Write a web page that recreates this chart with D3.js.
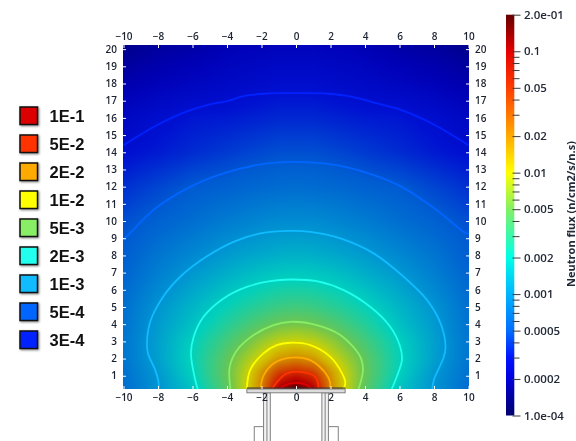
<!DOCTYPE html>
<html>
<head>
<meta charset="utf-8">
<script src="https://cdn.jsdelivr.net/npm/d3@7"></script>
<style>
  body { margin: 0; background: #fff; }
  #chart { position: relative; width: 576px; height: 441px; overflow: hidden; }
  #chart canvas, #chart svg { position: absolute; left: 0; top: 0; }
  #chart svg { filter: blur(0.3px); }
  text { font-family: "Open Sans", sans-serif; }
</style>
</head>
<body>
<div id="chart"></div>
<script>
// legend
var legendLabels = ["1E-1", "5E-2", "2E-2", "1E-2", "5E-3", "2E-3", "1E-3", "5E-4", "3E-4"];
var legendColors = ["#dd0000", "#ff3300", "#ffaa00", "#ffff00", "#88ee66", "#22ffee", "#11bbff", "#0066ff", "#0022ff"];

// colour bar
var barValues = [0.0001, 0.00015, 0.0002, 0.0003, 0.0005, 0.001, 0.002, 0.005, 0.01, 0.02, 0.05, 0.1, 0.2];
var barColors = ["#00006e", "#0000aa", "#0000dc", "#0014ff", "#006eff", "#00b4ff", "#00ffe6", "#82f064", "#ffff00", "#ffaa00", "#ff3c00", "#e60000", "#640000"];
var barMajor = [0.2, 0.1, 0.05, 0.02, 0.01, 0.005, 0.002, 0.001, 0.0005, 0.0002, 0.0001];
var barMajorLabels = ["2.0e-01", "0.1", "0.05", "0.02", "0.01", "0.005", "0.002", "0.001", "0.0005", "0.0002", "1.0e-04"];
var barMinor = [0.09, 0.08, 0.07, 0.06, 0.04, 0.03, 0.009, 0.008, 0.007, 0.006, 0.004, 0.003, 0.0009, 0.0008, 0.0007, 0.0006, 0.0004, 0.0003];

// flux, one row per gridY
var gridX = [-10, -8, -6, -4, -3, -2, -1, 0, 1, 2, 3, 4, 6, 8, 10];
var gridY = [0.23, 0.6, 1.2, 2, 3, 4, 5, 6.5, 8, 10, 12, 14, 16, 18, 20.24];
var fluxRows = [
  [.00062, .001, .0017, .0043, .0085, .021, .115, .22, .115, .021, .0085, .0043, .0017, .001, .00062],
  [.00063, .001, .0018, .0046, .0085, .021, .08, .13, .08, .021, .0085, .0046, .0018, .001, .00063],
  [.00065, .00105, .002, .0048, .0082, .018, .045, .058, .045, .018, .0082, .0048, .002, .00105, .00065],
  [.00068, .00115, .0021, .0045, .0068, .0103, .0175, .021, .0175, .0103, .0068, .0045, .0021, .00115, .00068],
  [.00068, .00115, .00197, .0036, .0049, .0067, .0087, .0097, .0087, .0067, .0049, .0036, .00197, .00115, .00068],
  [.00066, .00108, .00165, .0027, .0034, .0042, .005, .0053, .005, .0042, .0034, .0027, .00165, .00108, .00066],
  [.00064, .001, .00145, .0021, .0025, .0029, .0033, .0035, .0033, .0029, .0025, .0021, .00145, .001, .00064],
  [.00058, .00082, .00113, .00148, .00168, .00187, .00202, .00205, .00202, .00187, .00168, .00148, .00113, .00082, .00058],
  [.00052, .00069, .00087, .00108, .00118, .00127, .00135, .00138, .00135, .00127, .00118, .00108, .00087, .00069, .00052],
  [.00046, .00054, .00063, .00075, .0008, .00086, .0009, .00091, .0009, .00086, .0008, .00075, .00063, .00054, .00046],
  [.00037, .00043, .0005, .00054, .00057, .00059, .00061, .00062, .00061, .00059, .00057, .00054, .0005, .00043, .00037],
  [.00029, .00032, .00036, .0004, .00042, .00044, .00046, .00046, .00046, .00044, .00042, .0004, .00036, .00032, .00029],
  [.00024, .00028, .00031, .00032, .00033, .00034, .00035, .00035, .00035, .00034, .00033, .00032, .00031, .00028, .00024],
  [.00019, .00021, .00023, .00025, .00026, .00027, .00028, .00028, .00028, .00027, .00026, .00025, .00023, .00021, .00019],
  [.00015, .00017, .00018, .0002, .00021, .00021, .00022, .00022, .00022, .00021, .00021, .0002, .00018, .00017, .00015]
];

// contour lines in plot units, same order as the legend
var contour1e1 = [[-0.95, 0.23], [-0.7, 0.42], [-0.3, 0.56], [0.2, 0.58], [0.65, 0.45], [0.9, 0.23]];
var contour5e2 = [[-1.4, 0.23], [-1, 0.75], [-0.53, 1.14], [0.25, 1.23], [1.12, 0.94], [1.31, 0.27]];
var contour2e2 = [[-2.07, 0.23], [-1.87, 1.04], [-1.3, 1.72], [-0.33, 2.05], [0.83, 1.91], [1.79, 1.04], [1.99, 0.36], [1.91, 0.23]];
var contour1e2 = [[-2.85, 0.23], [-2.66, 1.33], [-1.89, 2.3], [-1.12, 2.78], [-0.33, 2.92], [0.83, 2.78], [1.99, 2.1], [2.67, 1.14], [2.86, 0.6], [2.76, 0.23]];
var contour5e3 = [[-3.8, 0.23], [-3.84, 1.52], [-3.41, 2.5], [-2.45, 3.37], [-1.3, 3.95], [-0.33, 4.14], [1.2, 3.95], [2.57, 3.37], [3.73, 2.1], [3.88, 1.33], [3.63, 0.23]];
var contour2e3 = [[-5.7, 0.23], [-5.84, 0.75], [-6.09, 2.3], [-5.93, 3.27], [-5.36, 4.43], [-4.2, 5.5], [-2.85, 6.17], [-1.5, 6.5], [-0.33, 6.6], [1.2, 6.5], [2.76, 5.98], [4.3, 5.01], [5.46, 3.85], [6.04, 2.69], [6.14, 1.91], [5.84, 0.94], [5.55, 0.23]];
var contour1e3 = [[-7.97, 0.23], [-7.97, 0.65], [-8.16, 1.33], [-8.58, 2.3], [-8.64, 2.88], [-8.45, 4.14], [-7.77, 5.5], [-6.71, 6.76], [-5.36, 7.82], [-3.62, 8.79], [-2.07, 9.28], [-0.33, 9.43], [0.83, 9.37], [2.57, 8.99], [4.5, 8.12], [6.24, 6.76], [7.6, 5.4], [8.38, 4.05], [8.67, 2.69], [8.57, 2.1], [7.99, 0.75], [7.9, 0.23]];
var contour5e4 = [[-10, 8.93], [-9.8, 9.12], [-8.16, 10.73], [-6.13, 11.99], [-4.2, 12.77], [-2.07, 13.29], [-0.33, 13.44], [2.07, 13.29], [4.2, 12.77], [6.13, 11.99], [8.17, 10.63], [9.72, 9.37], [10, 9.24]];
var contour3e4 = [[-10, 14.41], [-8.07, 15.57], [-6.13, 16.45], [-4.59, 16.87], [-4, 16.97], [-3.05, 17.26], [-1.69, 17.42], [-0.33, 17.44], [1.69, 17.42], [3.05, 17.26], [4.59, 16.87], [6.13, 16.45], [8.07, 15.57], [10, 14.41]];
var contourLines = [contour1e1, contour5e2, contour2e2, contour1e2, contour5e3, contour2e3, contour1e3, contour5e4, contour3e4];

// ticks on the plot frame
var xTicks = [-10, -8, -6, -4, -2, 0, 2, 4, 6, 8, 10];
var yTicks = [1, 2, 3, 4, 5, 6, 7, 8, 9, 10, 11, 12, 13, 14, 15, 16, 17, 18, 19, 20];

var width = 576, height = 441;
var plot = { left: 123, right: 469, top: 45, bottom: 389 };

var xScale = d3.scaleLinear().domain([-10, 10]).range([123.5, 468.5]);
var yScale = d3.scaleLinear().domain([0.23, 20.24]).range([plot.bottom, plot.top]);
var colorScale = d3.scaleLog().domain(barValues).range(barColors).interpolate(d3.interpolateRgb).clamp(true);
var barScale = d3.scaleLog().domain([0.0001, 0.2]).range([415.5, 14.7]);

var chart = d3.select("#chart");

var canvas = chart.append("canvas").attr("width", width).attr("height", height);
var ctx = canvas.node().getContext("2d");

function fluxAt(x, y) {
  var i = Math.min(Math.max(d3.bisectRight(gridX, x) - 1, 0), gridX.length - 2);
  var j = Math.min(Math.max(d3.bisectRight(gridY, y) - 1, 0), gridY.length - 2);
  var tx = Math.max(0, Math.min(1, (x - gridX[i]) / (gridX[i + 1] - gridX[i])));
  var ty = Math.max(0, Math.min(1, (y - gridY[j]) / (gridY[j + 1] - gridY[j])));
  var a = Math.log10(fluxRows[j][i]), b = Math.log10(fluxRows[j][i + 1]);
  var c = Math.log10(fluxRows[j + 1][i]), d = Math.log10(fluxRows[j + 1][i + 1]);
  return Math.pow(10, (a * (1 - tx) + b * tx) * (1 - ty) + (c * (1 - tx) + d * tx) * ty);
}

// draw the field on a second canvas with some margin so the blur has no edge
var off = document.createElement("canvas");
off.width = width;
off.height = height;
var offCtx = off.getContext("2d");
var pad = 10;
for (var px = plot.left - pad; px < plot.right + pad; px++) {
  for (var py = plot.top - pad; py < plot.bottom + pad; py++) {
    var col = d3.rgb(colorScale(fluxAt(xScale.invert(px + 0.5), yScale.invert(py + 0.5))));
    // the field is a bit darker than the colour bar in the picture
    offCtx.fillStyle = "rgb(" + col.r * 0.82 + "," + col.g * 0.82 + "," + col.b * 0.82 + ")";
    offCtx.fillRect(px, py, 1, 1);
  }
}
ctx.save();
ctx.beginPath();
ctx.rect(plot.left, plot.top, plot.right - plot.left, plot.bottom - plot.top);
ctx.clip();
ctx.filter = "blur(2px)";
ctx.drawImage(off, 0, 0);
ctx.restore();

var svg = chart.append("svg").attr("width", width).attr("height", height);

// contours
var line = d3.line().x(d => xScale(d[0])).y(d => yScale(d[1])).curve(d3.curveCatmullRom);
svg.append("g").selectAll("path")
  .data(contourLines)
  .enter()
  .append("path")
  .attr("d", line)
  .attr("fill", "none")
  .attr("stroke", (d, i) => legendColors[i])
  .attr("stroke-width", 1.8)
  .attr("stroke-linejoin", "round");

// structure under the plot, in plot units
var plate = [-2.85, 2.85, 0.23, 0.01];
var tubes = [[-1.88, -1.49], [1.5, 1.88]];
var boxes = [[-2.42, -1.79], [1.82, 2.45]];
var tubeBottom = -2.9, boxTop = -1.96;

var structure = svg.append("g").attr("fill", "none").attr("stroke", "#808080").attr("stroke-width", 1);
structure.selectAll(".box")
  .data(boxes)
  .enter()
  .append("rect")
  .attr("x", d => xScale(d[0]))
  .attr("width", d => xScale(d[1]) - xScale(d[0]))
  .attr("y", yScale(boxTop))
  .attr("height", yScale(tubeBottom) - yScale(boxTop));
structure.selectAll(".tube")
  .data(tubes)
  .enter()
  .append("rect")
  .attr("x", d => xScale(d[0]))
  .attr("width", d => xScale(d[1]) - xScale(d[0]))
  .attr("y", yScale(plate[3]))
  .attr("height", yScale(tubeBottom) - yScale(plate[3]))
  .attr("fill", "#f2f2f2");
structure.selectAll(".tubeMid")
  .data(tubes)
  .enter()
  .append("line")
  .attr("x1", d => xScale((d[0] + d[1]) / 2))
  .attr("x2", d => xScale((d[0] + d[1]) / 2))
  .attr("y1", yScale(plate[3]))
  .attr("y2", yScale(tubeBottom));
structure.append("rect")
  .attr("x", xScale(plate[0]))
  .attr("width", xScale(plate[1]) - xScale(plate[0]))
  .attr("y", yScale(plate[2]))
  .attr("height", yScale(plate[3]) - yScale(plate[2]))
  .attr("fill", "#dcdcdc");
structure.append("line")
  .attr("x1", xScale(plate[0]))
  .attr("x2", xScale(plate[1]))
  .attr("y1", yScale(plate[2]) - 1)
  .attr("y2", yScale(plate[2]) - 1)
  .attr("stroke", "#333");

// axes, ticks are white and point into the plot
function styleAxis(g) {
  g.select(".domain").remove();
  g.selectAll("line").attr("stroke", "#fff").attr("stroke-width", 1);
  g.selectAll("text").attr("font-size", 10).attr("font-weight", 600).attr("fill", "#1c2230");
}
svg.append("g").attr("transform", `translate(0, ${plot.top})`)
  .call(d3.axisTop(xScale).tickValues(xTicks).tickSize(-3).tickPadding(5)).call(styleAxis);
svg.append("g").attr("transform", `translate(0, ${plot.bottom})`)
  .call(d3.axisBottom(xScale).tickValues(xTicks).tickSize(-3).tickPadding(5)).call(styleAxis);
svg.append("g").attr("transform", `translate(${plot.left}, 0)`)
  .call(d3.axisLeft(yScale).tickValues(yTicks).tickSize(-3).tickPadding(6)).call(styleAxis);
svg.append("g").attr("transform", `translate(${plot.right}, 0)`)
  .call(d3.axisRight(yScale).tickValues(yTicks).tickSize(-3).tickPadding(6)).call(styleAxis);

// colour bar gradient
var defs = svg.append("defs");
var gradient = defs.append("linearGradient")
  .attr("id", "barGradient")
  .attr("x1", 0).attr("x2", 0).attr("y1", 0).attr("y2", 1);
barValues.slice().reverse().forEach(function(v) {
  gradient.append("stop")
    .attr("offset", (barScale(v) - barScale(0.2)) / (barScale(0.0001) - barScale(0.2)))
    .attr("stop-color", colorScale(v));
});
svg.append("rect")
  .attr("x", 506)
  .attr("y", barScale(0.2))
  .attr("width", 8.3)
  .attr("height", barScale(0.0001) - barScale(0.2))
  .attr("fill", "url(#barGradient)");

var barAxis = d3.axisRight(barScale)
  .tickValues(barMajor)
  .tickFormat((d, i) => barMajorLabels[i])
  .tickSize(8)
  .tickPadding(3.5);
var barG = svg.append("g").attr("transform", "translate(512.5, 0)").call(barAxis);
barG.select(".domain").remove();
barG.selectAll("line").attr("stroke", "#3a3a3a");
barG.selectAll("text").attr("font-size", 11.5).attr("font-weight", 600).attr("fill", "#222a38");

var minorG = svg.append("g").attr("transform", "translate(512.5, 0)")
  .call(d3.axisRight(barScale).tickValues(barMinor).tickFormat("").tickSize(7));
minorG.select(".domain").remove();
minorG.selectAll("line").attr("stroke", "#3a3a3a");

svg.append("text")
  .attr("transform", "translate(575, 214) rotate(-90)")
  .attr("text-anchor", "middle")
  .attr("font-size", 11)
  .attr("font-weight", 700)
  .attr("fill", "#222a38")
  .text("Neutron flux (n/cm2/s/n.s)");

// legend on the left
var legendScale = d3.scaleBand().domain(legendLabels).range([102, 354]);
var legend = svg.append("g").selectAll("g")
  .data(legendLabels)
  .enter()
  .append("g")
  .attr("transform", d => `translate(0, ${legendScale(d)})`);
legend.append("rect")
  .attr("x", 20)
  .attr("y", 5)
  .attr("width", 17.5)
  .attr("height", 17.5)
  .attr("fill", (d, i) => legendColors[i])
  .attr("stroke", "#111")
  .attr("stroke-width", 1.5)
  .style("filter", "drop-shadow(1px 1px 1px rgba(0,0,0,0.5))");
legend.append("text")
  .attr("x", 49.5)
  .attr("y", 20)
  .attr("font-size", 16.5)
  .attr("font-weight", 700)
  .style("font-family", "'Liberation Sans', Arial, sans-serif")
  .attr("fill", "#111")
  .text(d => d);
</script>
</body>
</html>
